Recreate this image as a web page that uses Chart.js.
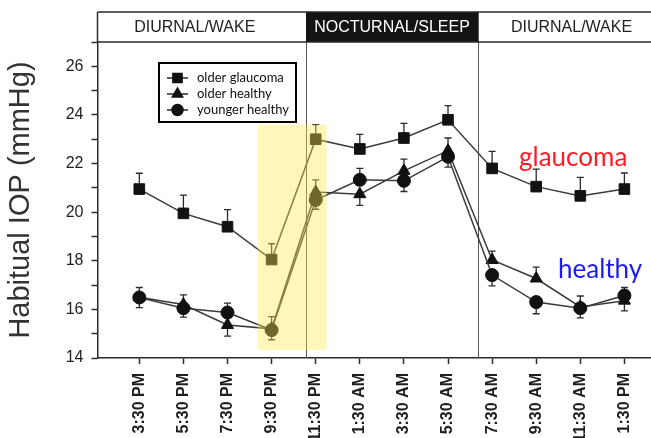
<!DOCTYPE html>
<html>
<head>
<meta charset="utf-8">
<script src="https://cdn.jsdelivr.net/npm/chart.js@4.4.1/dist/chart.umd.min.js"></script>
<style>
  html, body { margin: 0; padding: 0; background: #fff; }
  #wrap { width: 651px; height: 438px; position: relative; }
</style>
</head>
<body>
<div id="wrap"><canvas id="iopChart"></canvas></div>
<script>
// Habitual IOP over 24 h

const timeLabels = ['3:30 PM', '5:30 PM', '7:30 PM', '9:30 PM', '11:30 PM', '1:30 AM',
    '3:30 AM', '5:30 AM', '7:30 AM', '9:30 AM', '11:30 AM', '1:30 PM'];

const glaucomaIOP = [20.95, 19.95, 19.4, 18.05, 23.0, 22.6, 23.05, 23.8, 21.8, 21.05, 20.67, 20.95];
const glaucomaSEM = [0.65, 0.75, 0.7, 0.65, 0.6, 0.6, 0.6, 0.58, 0.7, 0.72, 0.76, 0.66];

const olderHealthyIOP = [16.5, 16.2, 15.36, 15.2, 20.83, 20.74, 21.7, 22.53, 18.03, 17.27, 16.1, 16.36];
const olderHealthySEM = [0.4, 0.4, 0.46, 0.5, 0.5, 0.46, 0.48, 0.52, 0.37, 0.47, 0.45, 0.42];

const youngerHealthyIOP = [16.49, 16.05, 15.87, 15.15, 20.5, 21.33, 21.29, 22.28, 17.41, 16.3, 16.05, 16.57];
const youngerHealthySEM = [0.42, 0.37, 0.39, 0.4, 0.38, 0.47, 0.44, 0.43, 0.44, 0.48, 0.4, 0.33];

const yTicks = [14, 15, 16, 17, 18, 19, 20, 21, 22, 23, 24, 25, 26, 27];

const periods = [
    { label: 'DIURNAL/WAKE', dark: false },
    { label: 'NOCTURNAL/SLEEP', dark: true },
    { label: 'DIURNAL/WAKE', dark: false }
];

// x positions (in x-axis units) of the period boundaries and the highlight band
const periodBreaks = [3.78, 7.68];
const highlight = { xFrom: 2.68, xTo: 4.25, yFrom: 14.33, yTo: 23.6 };

const INK = '#2b2b2b';

function toPoints(values) {
    return values.map((v, i) => ({ x: i, y: v }));
}

// error bars: glaucoma always up, for the healthy pair the upper one goes up
const errorBars = {
    id: 'errorBars',
    beforeDatasetsDraw(chart) {
        const ctx = chart.ctx;
        const yScale = chart.scales.y;
        const ds = chart.data.datasets;
        ctx.save();
        ctx.strokeStyle = INK;
        ctx.lineWidth = 1.3;
        ds.forEach((d, di) => {
            const meta = chart.getDatasetMeta(di);
            meta.data.forEach((pt, i) => {
                let dir = 1;
                if (d.partner !== undefined) {
                    const other = ds[d.partner].data[i].y;
                    dir = d.data[i].y >= other ? 1 : -1;
                    if (d.data[i].y === other && di > d.partner) dir = -1;
                }
                const yEnd = yScale.getPixelForValue(d.data[i].y + dir * d.errors[i]);
                ctx.beginPath();
                ctx.moveTo(pt.x, pt.y);
                ctx.lineTo(pt.x, yEnd);
                ctx.moveTo(pt.x - 3.5, yEnd);
                ctx.lineTo(pt.x + 3.5, yEnd);
                ctx.stroke();
            });
        });
        ctx.restore();
    }
};

const decorations = {
    id: 'decorations',
    beforeDatasetsDraw(chart) {
        const ctx = chart.ctx;
        const xs = chart.scales.x;
        const area = chart.chartArea;
        ctx.save();
        ctx.strokeStyle = '#555';
        ctx.lineWidth = 1;
        periodBreaks.forEach(b => {
            const x = Math.round(xs.getPixelForValue(b)) + 0.5;
            ctx.beginPath();
            ctx.moveTo(x, 12);
            ctx.lineTo(x, area.bottom);
            ctx.stroke();
        });
        ctx.restore();
    },
    afterDatasetsDraw(chart) {
        const ctx = chart.ctx;
        const xs = chart.scales.x;
        const ys = chart.scales.y;
        const area = chart.chartArea;

        // yellow highlight over 9:30 PM - 11:30 PM
        ctx.save();
        ctx.fillStyle = 'rgba(255, 235, 80, 0.4)';
        const x1 = xs.getPixelForValue(highlight.xFrom);
        const x2 = xs.getPixelForValue(highlight.xTo);
        const y1 = ys.getPixelForValue(highlight.yTo);
        const y2 = ys.getPixelForValue(highlight.yFrom);
        ctx.fillRect(x1, y1, x2 - x1, y2 - y1);
        ctx.restore();

        // period header
        ctx.save();
        const top = 12, bottom = area.top;
        const edges = [area.left, xs.getPixelForValue(periodBreaks[0]),
            xs.getPixelForValue(periodBreaks[1]), area.right + 14];
        ctx.font = '16px "Liberation Sans", Arial, sans-serif';
        ctx.textAlign = 'center';
        ctx.textBaseline = 'middle';
        periods.forEach((p, i) => {
            const l = edges[i], r = edges[i + 1];
            if (p.dark) {
                ctx.fillStyle = '#141414';
                ctx.fillRect(l, top, r - l, bottom - top);
            }
            ctx.fillStyle = p.dark ? '#fff' : '#222';
            const cx = i === 0 ? l + (r - l) / 2 - 7 : (l + r) / 2;
            ctx.fillText(p.label, cx, (top + bottom) / 2 + 1);
        });
        ctx.strokeStyle = INK;
        ctx.lineWidth = 1.5;
        ctx.beginPath();
        ctx.moveTo(area.left, top);
        ctx.lineTo(chart.width, top);
        ctx.moveTo(area.left, bottom);
        ctx.lineTo(chart.width, bottom);
        ctx.moveTo(area.left, top);
        ctx.lineTo(area.left, bottom);
        ctx.stroke();
        ctx.restore();

        // legend box
        ctx.save();
        const lx = 159, ly = 63, lw = 137, lh = 59;
        ctx.fillStyle = '#fff';
        ctx.fillRect(lx, ly, lw, lh);
        ctx.strokeStyle = '#000';
        ctx.lineWidth = 2;
        ctx.strokeRect(lx, ly, lw, lh);
        ctx.font = '13px Lato, sans-serif';
        ctx.textBaseline = 'middle';
        ctx.textAlign = 'left';
        chart.data.datasets.forEach((d, i) => {
            const cy = 78 + i * 16;
            ctx.strokeStyle = INK;
            ctx.lineWidth = 1.5;
            ctx.beginPath();
            ctx.moveTo(167, cy);
            ctx.lineTo(188, cy);
            ctx.stroke();
            ctx.fillStyle = '#111';
            ctx.strokeStyle = '#111';
            Chart.helpers.drawPoint(ctx, {
                pointStyle: d.pointStyle,
                radius: d.pointRadius - 1,
                rotation: 0,
                borderWidth: 1
            }, 177.5, cy);
            ctx.fillStyle = '#111';
            ctx.fillText(d.label, 197, cy);
        });
        ctx.restore();

        // group annotations
        ctx.save();
        ctx.font = '26px Lato, sans-serif';
        ctx.textAlign = 'left';
        ctx.textBaseline = 'alphabetic';
        ctx.fillStyle = '#ff1a24';
        ctx.fillText('glaucoma', 519, 166);
        ctx.fillStyle = '#1a1aff';
        ctx.fillText('healthy', 558, 278);
        ctx.restore();
    }
};

function renderChart() {
    const ctx = document.getElementById('iopChart').getContext('2d');
    const lineStyle = {
        borderColor: '#3a3a3a',
        borderWidth: 1.5,
        backgroundColor: '#111',
        pointBackgroundColor: '#111',
        pointBorderColor: '#111',
        pointBorderWidth: 1,
        tension: 0,
        clip: false
    };
    new Chart(ctx, {
        type: 'line',
        data: {
            datasets: [{
                ...lineStyle,
                label: 'older glaucoma',
                data: toPoints(glaucomaIOP),
                errors: glaucomaSEM,
                pointStyle: 'rect',
                pointRadius: 7.5,
                order: 2
            }, {
                ...lineStyle,
                label: 'older healthy',
                data: toPoints(olderHealthyIOP),
                errors: olderHealthySEM,
                partner: 2,
                pointStyle: 'triangle',
                pointRadius: 7,
                order: 1
            }, {
                ...lineStyle,
                label: 'younger healthy',
                data: toPoints(youngerHealthyIOP),
                errors: youngerHealthySEM,
                partner: 1,
                pointStyle: 'circle',
                pointRadius: 6.5,
                order: 0
            }]
        },
        options: {
            responsive: true,
            maintainAspectRatio: false,
            animation: false,
            layout: {
                autoPadding: false,
                padding: { top: 42, right: 0, bottom: 0, left: 0 }
            },
            scales: {
                x: {
                    type: 'linear',
                    min: -0.948,
                    max: 11.603,
                    afterBuildTicks(scale) {
                        scale.ticks = timeLabels.map((_, i) => ({ value: i }));
                    },
                    afterFit(scale) {
                        scale.height = 80;
                        scale.paddingLeft = 0;
                        scale.paddingRight = 0;
                    },
                    ticks: {
                        autoSkip: false,
                        minRotation: 90,
                        maxRotation: 90,
                        padding: 9,
                        color: '#1e1e1e',
                        font: { family: '"Liberation Sans", Arial, sans-serif', size: 16, weight: 'bold' },
                        callback: v => timeLabels[v]
                    },
                    grid: {
                        display: true,
                        drawOnChartArea: false,
                        drawTicks: true,
                        tickLength: 6,
                        tickWidth: 1.5,
                        tickColor: INK
                    },
                    border: { display: true, color: INK, width: 1.5 }
                },
                y: {
                    min: 14,
                    max: 27,
                    afterBuildTicks(scale) {
                        scale.ticks = yTicks.map(v => ({ value: v }));
                    },
                    afterFit(scale) {
                        scale.width = 97.5;
                        scale.paddingTop = 0;
                        scale.paddingBottom = 0;
                    },
                    ticks: {
                        padding: 8,
                        color: '#1e1e1e',
                        font: { family: '"Liberation Sans", Arial, sans-serif', size: 16 },
                        callback: v => (v % 2 === 0 && v < 27 ? String(v) : '')
                    },
                    grid: {
                        display: true,
                        drawOnChartArea: false,
                        drawTicks: true,
                        tickLength: 6,
                        tickWidth: 1.5,
                        tickColor: INK
                    },
                    border: { display: true, color: INK, width: 1.5 },
                    title: {
                        display: true,
                        text: 'Habitual IOP (mmHg)',
                        color: '#333',
                        font: { family: '"Liberation Sans", Arial, sans-serif', size: 29 },
                        padding: { top: 4, bottom: 0 }
                    }
                }
            },
            plugins: {
                legend: { display: false },
                tooltip: { enabled: false }
            }
        },
        plugins: [decorations, errorBars]
    });
}

document.addEventListener('DOMContentLoaded', renderChart);
</script>
</body>
</html>
